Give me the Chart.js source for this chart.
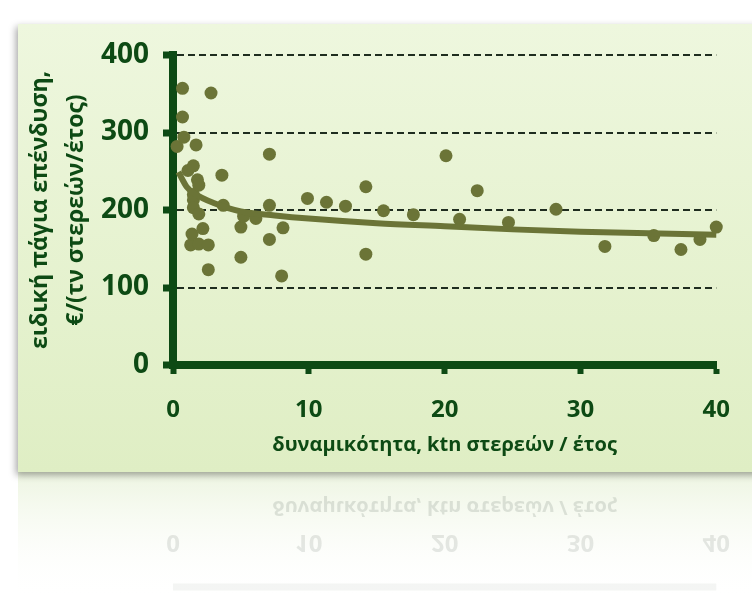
<!DOCTYPE html>
<html>
<head>
<meta charset="utf-8">
<script src="https://cdn.jsdelivr.net/npm/chart.js@4/dist/chart.umd.min.js"></script>
<style>
html,body{margin:0;padding:0;background:#ffffff;}
#wrap{width:752px;height:615px;position:relative;}
canvas{display:block;}
</style>
</head>
<body>
<div id="wrap"><canvas id="c" width="752" height="615"></canvas></div>
<script>
// ---- data ----
const capacity = [0.3, 0.7, 0.7, 0.8, 1.1, 1.3, 1.4, 1.5, 1.5, 1.5, 1.5, 1.7, 1.8, 1.9, 1.9, 1.9,
  2.2, 2.6, 2.6, 2.8, 3.6, 3.7, 5.0, 5.0, 5.2, 6.1, 7.1, 7.1, 7.1, 8.0, 8.1, 9.9, 11.3, 12.7,
  14.2, 14.2, 15.5, 17.7, 20.1, 21.1, 22.4, 24.7, 28.2, 31.8, 35.4, 37.4, 38.8, 40.0];
const investment = [282, 357, 320, 294, 251, 155, 169, 257, 220, 213, 203, 284, 239, 232, 195, 156,
  176, 155, 123, 351, 245, 206, 178, 139, 192, 189, 272, 206, 162, 115, 177, 215, 210, 205,
  230, 143, 199, 194, 270, 188, 225, 184, 201, 153, 167, 149, 162, 178];
const trendCapacity = [0.4, 1, 1.6, 3, 5, 7.5, 10, 15, 20, 25, 30, 35, 40];
const trendInvestment = [249, 230, 221, 209, 198, 193, 189, 183, 179, 175, 172, 170, 168];
const xTickValues = [0, 10, 20, 30, 40];
const yTickValues = [0, 100, 200, 300, 400];
const xTitle = 'δυναμικότητα, ktn στερεών / έτος';
const yTitle = ['ειδική πάγια επένδυση,', '€/(τν στερεών/έτος)'];

// ---- styles ----
const FONT = '"Open Sans", "DejaVu Sans", sans-serif';
const DARK = '#0d4a14';
const OLIVE = '#6b7437';
const GRID = '#1f2d1f';

const panelPlugin = {
  id: 'panel',
  beforeDraw(chart) {
    const ctx = chart.ctx;
    ctx.save();
    ctx.fillStyle = '#ffffff';
    ctx.fillRect(0, 0, chart.width, chart.height);
    const rg = ctx.createLinearGradient(0, 472, 0, 600);
    rg.addColorStop(0, 'rgba(222,236,200,0.55)');
    rg.addColorStop(1, 'rgba(255,255,255,0)');
    ctx.fillStyle = rg;
    ctx.fillRect(18, 472, chart.width, 128);
    ctx.shadowColor = 'rgba(0,0,0,0.35)';
    ctx.shadowBlur = 7;
    ctx.shadowOffsetX = -2;
    ctx.shadowOffsetY = 3;
    const g = ctx.createLinearGradient(0, 24, 0, 472);
    g.addColorStop(0, '#eef7de');
    g.addColorStop(1, '#dfeec4');
    ctx.fillStyle = g;
    ctx.fillRect(18, 24, chart.width + 20, 448);
    ctx.restore();
  },
  afterDraw(chart) {
    const ctx = chart.ctx;
    const xs = chart.scales.x;
    const M = 476;
    ctx.save();
    ctx.translate(0, 2 * M);
    ctx.scale(1, -1);
    ctx.textAlign = 'center';
    ctx.textBaseline = 'middle';
    ctx.fillStyle = '#8c968c';
    ctx.globalAlpha = 0.22;
    ctx.font = 'bold 24px ' + FONT;
    xs.ticks.forEach(t => ctx.fillText(String(t.value), xs.getPixelForValue(t.value), 410));
    ctx.globalAlpha = 0.26;
    ctx.font = 'bold 20px ' + FONT;
    ctx.fillText(xTitle, (xs.left + xs.right) / 2, 445);
    ctx.globalAlpha = 0.08;
    ctx.strokeStyle = '#6f7a6f';
    ctx.lineWidth = 7;
    ctx.beginPath();
    ctx.moveTo(xs.left, xs.top);
    ctx.lineTo(xs.right, xs.top);
    ctx.stroke();
    ctx.restore();
  }
};

new Chart(document.getElementById('c'), {
  type: 'scatter',
  data: {
    datasets: [
      {
        label: 'trend',
        data: trendCapacity.map((x, i) => ({ x, y: trendInvestment[i] })),
        showLine: true,
        borderColor: OLIVE,
        borderWidth: 6,
        pointRadius: 0,
        cubicInterpolationMode: 'monotone',
        clip: false,
        order: 1
      },
      {
        label: 'data',
        data: capacity.map((x, i) => ({ x, y: investment[i] })),
        backgroundColor: OLIVE,
        borderColor: OLIVE,
        borderWidth: 0,
        pointRadius: 6.5,
        clip: false,
        order: 2
      }
    ]
  },
  options: {
    responsive: false,
    animation: false,
    devicePixelRatio: 1,
    layout: { padding: { left: 0, right: 30, top: 55, bottom: 0 } },
    plugins: { legend: { display: false }, tooltip: { enabled: false } },
    scales: {
      x: {
        type: 'linear',
        min: 0, max: 40,
        afterBuildTicks: s => { s.ticks = xTickValues.map(v => ({ value: v })); },
        afterFit: s => { s.height = 250; },
        grid: { color: 'transparent', drawTicks: true, tickLength: 9, tickWidth: 6, tickColor: DARK },
        border: { display: true, color: DARK, width: 8 },
        ticks: { color: DARK, font: { family: FONT, size: 24, weight: 'bold' }, padding: 22 },
        title: { display: true, text: xTitle, color: DARK, font: { family: FONT, size: 20, weight: 'bold' }, padding: { top: 0, bottom: 158 } }
      },
      y: {
        type: 'linear',
        min: 0, max: 400,
        afterBuildTicks: s => { s.ticks = yTickValues.map(v => ({ value: v })); },
        afterFit: s => { s.width = 173; },
        grid: {
          color: c => (c.tick && c.tick.value === 0) ? 'transparent' : GRID,
          lineWidth: 2,
          drawTicks: true, tickLength: 10, tickWidth: 7, tickColor: DARK
        },
        border: { display: true, color: DARK, width: 8, dash: [7, 4] },
        ticks: { color: DARK, font: { family: FONT, size: 28, weight: 'bold' }, padding: 14 },
        title: { display: true, text: yTitle, color: DARK, font: { family: FONT, size: 23, weight: 'bold', lineHeight: 1.55 }, padding: { top: 23, bottom: 0 } }
      }
    }
  },
  plugins: [panelPlugin]
});
</script>
</body>
</html>
